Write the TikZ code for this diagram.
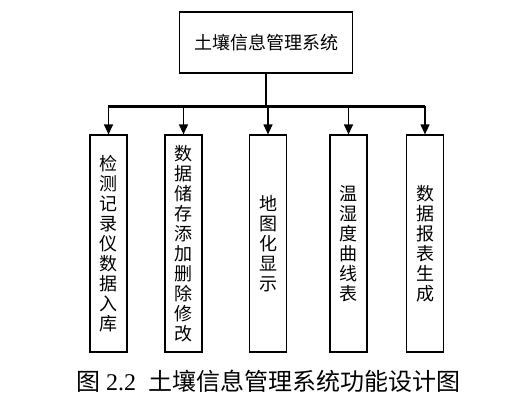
\documentclass[tikz,border=0pt]{standalone}
\usepackage{fontspec}
\setmainfont{Liberation Serif}
\newfontfamily\cjk{Noto Sans CJK SC}
\usetikzlibrary{arrows.meta}

\begin{document}
\begin{tikzpicture}[x=1pt, y=-1pt,
    font=\cjk\fontsize{18}{20}\selectfont,
    box/.style={draw, line width=1.2pt, inner sep=0pt},
    sub/.style={box, minimum width=37pt, minimum height=217pt, align=center},
    ar/.style={-{Triangle[length=10pt, width=9pt]}, line width=1.2pt}]
  \useasboundingbox (0,0) rectangle (526,402);
  \node[box, minimum width=173pt, minimum height=61pt] (sys) at (266,42.5) {土壤信息管理系统};
  \coordinate (bl) at (108,106);
  \coordinate (br) at (425,106);
  \node[sub] (m1) at (108.5,243.5) {检\\测\\记\\录\\仪\\数\\据\\入\\库};
  \node[sub] (m2) at (183.5,243.5) {数\\据\\储\\存\\添\\加\\删\\除\\修\\改};
  \node[sub] (m3) at (268,243.5) {地\\图\\化\\显\\示};
  \node[sub] (m4) at (348.5,243.5) {温\\湿\\度\\曲\\线\\表};
  \node[sub] (m5) at (425,243.5) {数\\据\\报\\表\\生\\成};
  % bus and drops
  \draw[line width=3pt] (bl) -- (br);
  \draw[line width=1.2pt] (sys.south) -- (sys.south |- bl);
  \foreach \m in {m1,m2,m3,m4,m5}
    \draw[ar] (\m.north |- bl) -- (\m.north);
  \node[font=\fontsize{24}{28}\selectfont] (cap) at (268,381) {{\cjk 图} 2.2\enspace{\cjk 土壤信息管理系统功能设计图}};
\end{tikzpicture}
\end{document}
